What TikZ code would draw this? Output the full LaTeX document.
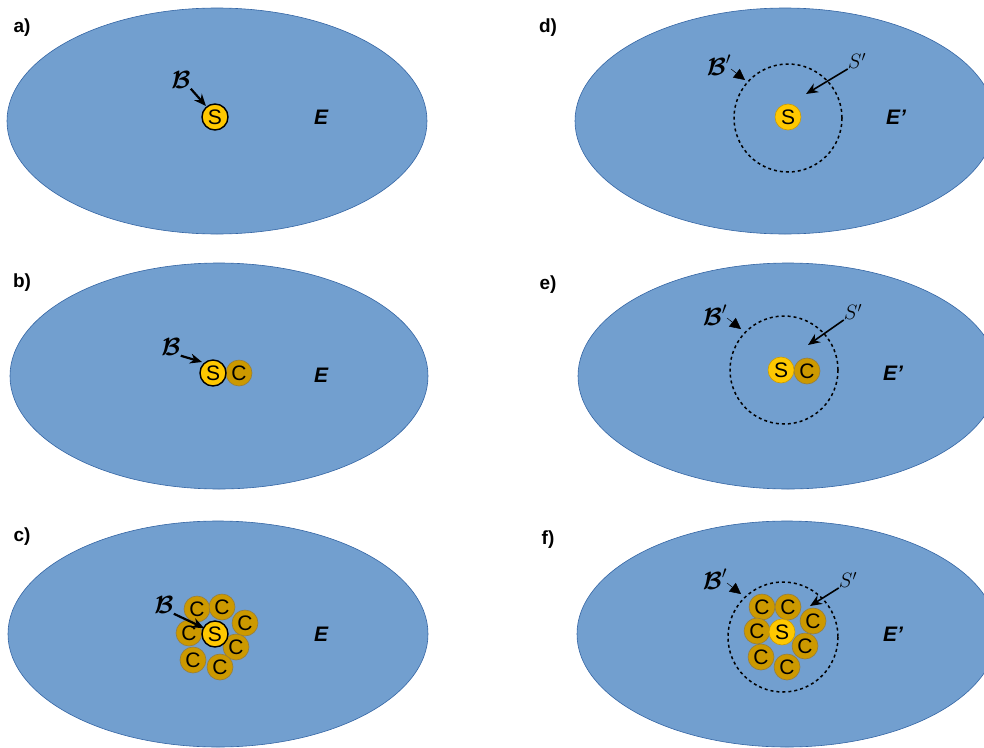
\documentclass[tikz,border=0pt]{standalone}
\usepackage{amsmath}
\usepackage{fontspec}
\setmainfont{Liberation Sans}
\usetikzlibrary{arrows.meta}
\definecolor{ellblue}{RGB}{114,159,207}
\definecolor{ellline}{RGB}{52,101,164}
\definecolor{syellow}{RGB}{255,200,0}
\definecolor{sline}{RGB}{205,155,0}
\definecolor{cgold}{RGB}{204,153,0}
\definecolor{cline}{RGB}{150,125,60}
\tikzset{
  env/.style={fill=ellblue,draw=ellline,line width=0.6pt},
  panel/.style={font=\fontsize{19}{21}\selectfont\bfseries},
  elabel/.style={font=\fontsize{21}{23}\selectfont\bfseries\itshape},
  sball/.style={circle,minimum size=26pt,inner sep=0pt,fill=syellow,draw=black,line width=1.4pt,font=\fontsize{21}{23}\selectfont},
  sballp/.style={circle,minimum size=26pt,inner sep=0pt,fill=syellow,draw=sline,line width=0.6pt,font=\fontsize{21}{23}\selectfont},
  cball/.style={circle,minimum size=26pt,inner sep=0pt,fill=cgold,draw=cline,line width=0.6pt,font=\fontsize{21}{23}\selectfont},
  blabel/.style={inner sep=0pt,font=\fontsize{24}{26}\selectfont},
  slabel/.style={inner sep=0pt,font=\fontsize{22}{24}\selectfont},
  barrow/.style={-{Stealth[length=12pt,width=10pt]},line width=2.2pt},
  sarrow/.style={-{Stealth[length=12pt,width=10pt]},line width=1.6pt},
  headonly/.style={-{Triangle[length=11pt,width=11pt]},line width=0.5pt},
  bubble/.style={dashed,dash pattern=on 3pt off 3pt,line width=1.5pt},
}
\begin{document}
\begin{tikzpicture}[x=1pt,y=-1pt]
\useasboundingbox (0,0) rectangle (984,747);
\begin{scope}
\clip (0,0) rectangle (984,747);
% ellipses
\draw[env] (217,121) ellipse [x radius=210,y radius=113];
\draw[env] (219,376) ellipse [x radius=209,y radius=113];
\draw[env] (218,634) ellipse [x radius=210,y radius=113];
\draw[env] (785,121) ellipse [x radius=210,y radius=113];
\draw[env] (788,376) ellipse [x radius=210,y radius=113];
\draw[env] (787,634) ellipse [x radius=210,y radius=113];
\end{scope}
% panel labels
\node[panel] (la) at (22,28) {a)};
\node[panel] (lb) at (22,283) {b)};
\node[panel] (lc) at (22,537) {c)};
\node[panel] (ld) at (548,28) {d)};
\node[panel] (le) at (548,285) {e)};
\node[panel] (lf) at (548,540) {f)};
% E labels
\node[elabel] (Ea) at (321,117) {E};
\node[elabel] (Eb) at (321,375) {E};
\node[elabel] (Ec) at (321,634) {E};
\node[elabel] (Ed) at (896,117) {E’};
\node[elabel] (Ee) at (893,373) {E’};
\node[elabel] (Ef) at (893,634) {E’};
% panel a
\node[sball] (Sa) at (215,117) {S};
\node[blabel] (Ba) at (181,80) {$\boldsymbol{\mathcal{B}}$};
\coordinate (Bat) at (206,106);
\draw[barrow] (Ba.south east) -- (Bat);
% panel b
\node[cball] (Cb) at (239,373) {C};
\node[sball] (Sb) at (213,373) {S};
\node[blabel] (Bb) at (171,347) {$\boldsymbol{\mathcal{B}}$};
\coordinate (Bbt) at (202,362);
\draw[barrow] (Bb.south east) -- (Bbt);
% panel c
\node[cball] (Cc1) at (197,609) {C};
\node[cball] (Cc2) at (222,607) {C};
\node[cball] (Cc3) at (245,623) {C};
\node[cball] (Cc4) at (189,633) {C};
\node[cball] (Cc5) at (236,647) {C};
\node[cball] (Cc6) at (193,660) {C};
\node[cball] (Cc7) at (220,667) {C};
\node[sball] (Sc) at (215,634) {S};
\node[blabel] (Bc) at (164,605) {$\boldsymbol{\mathcal{B}}$};
\coordinate (Bct) at (204,628);
\draw[barrow] (Bc.south east) -- (Bct);
% panel d
\draw[bubble] (788,118) circle [radius=54];
\node[sballp] (Sd) at (788,117) {S};
\node[blabel] (Bd) at (719,65) {$\boldsymbol{\mathcal{B}}'$};
\coordinate (Bd1) at (731,69);
\coordinate (Bd2) at (745,80);
\draw[headonly] (Bd1) -- (Bd2);
\node[slabel] (Spd) at (857,61) {$S'$};
\coordinate (Sdt) at (806,94);
\draw[sarrow] (Spd.south west) -- (Sdt);
% panel e
\draw[bubble] (784,370) circle [radius=54];
\node[cball] (Ce) at (807,371) {C};
\node[sballp] (Se) at (781,370) {S};
\node[blabel] (Be) at (715,315) {$\boldsymbol{\mathcal{B}}'$};
\coordinate (Be1) at (727,318);
\coordinate (Be2) at (741,329);
\draw[headonly] (Be1) -- (Be2);
\node[slabel] (Spe) at (853,312) {$S'$};
\coordinate (Set) at (808,345);
\draw[sarrow] (Spe.south west) -- (Set);
% panel f
\draw[bubble] (783,637) circle [radius=55];
\node[cball] (Cf1) at (762,607) {C};
\node[cball] (Cf2) at (788,607) {C};
\node[cball] (Cf3) at (813,621) {C};
\node[cball] (Cf4) at (757,631) {C};
\node[cball] (Cf5) at (805,646) {C};
\node[cball] (Cf6) at (761,657) {C};
\node[cball] (Cf7) at (787,667) {C};
\node[sballp] (Sf) at (782,632) {S};
\node[blabel] (Bf) at (715,579) {$\boldsymbol{\mathcal{B}}'$};
\coordinate (Bf1) at (727,583);
\coordinate (Bf2) at (741,594);
\draw[headonly] (Bf1) -- (Bf2);
\node[slabel] (Spf) at (848,580) {$S'$};
\coordinate (Sft) at (810,606);
\draw[sarrow] (Spf.south west) -- (Sft);
\end{tikzpicture}
\end{document}
